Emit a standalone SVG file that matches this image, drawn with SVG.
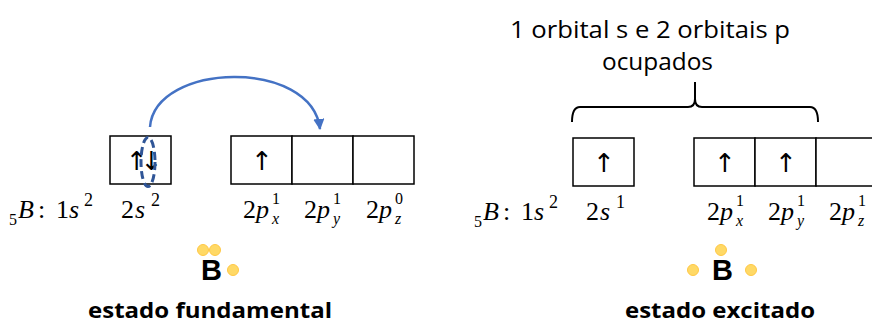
<svg xmlns="http://www.w3.org/2000/svg" width="872" height="325" viewBox="0 0 872 325">
<defs>
<style>
.box{fill:#fff;stroke:#000;stroke-width:1.5}
.m{font-family:"Liberation Serif","Times New Roman",serif;font-size:26px;fill:#000}
.i{font-style:italic}
.sm{font-size:16px}
.arr{font-family:"DejaVu Sans",sans-serif;font-size:26px;text-anchor:middle;fill:#000}
.dot{fill:#FFD966;stroke:#FFC845;stroke-width:1}
.bsym{font-family:"Liberation Sans",Arial,sans-serif;font-weight:bold;font-size:29px;fill:#000}
.cap{font-family:"Open Sans","Liberation Sans",sans-serif;font-weight:bold;font-size:22px;fill:#000}
.note{font-family:"Open Sans","Liberation Sans",sans-serif;font-size:24px;fill:#000}
.brace{fill:none;stroke:#000;stroke-width:2}
</style>
<marker id="ah" viewBox="0 0 10 10" refX="9" refY="5" markerWidth="4.5" markerHeight="4.5" orient="auto" markerUnits="strokeWidth">
<path d="M0,0 L10,5 L0,10 Z" fill="#4472C4"/>
</marker>
</defs>

<g id="ground-state">
<g id="ground-2s">
<rect class="box" x="110" y="136" width="61" height="48"/>
<text class="arr" x="140.5" y="170" letter-spacing="-7">↑↓</text>
</g>
<g id="ground-2p">
<rect class="box" x="231" y="136" width="61" height="48"/>
<rect class="box" x="292" y="136" width="61" height="48"/>
<rect class="box" x="353" y="136" width="61" height="48"/>
<text class="arr" x="262" y="170">↑</text>
</g>
<g id="ground-config">
<text class="m"><tspan class="sm" x="9" y="225">5</tspan><tspan class="i" x="18" y="218">B</tspan><tspan x="38">:</tspan><tspan x="56">1</tspan><tspan class="i" x="69">s</tspan><tspan x="84" y="206" font-size="18">2</tspan></text>
<text class="m"><tspan x="121" y="218">2</tspan><tspan class="i" x="135">s</tspan><tspan x="151" y="206" font-size="18">2</tspan></text>
<text class="m"><tspan x="243" y="218">2</tspan><tspan class="i" x="256">p</tspan></text>
<text class="m sm" x="272" y="204">1</text><text class="m sm i" x="272" y="224">x</text>
<text class="m"><tspan x="304" y="218">2</tspan><tspan class="i" x="317">p</tspan></text>
<text class="m sm" x="333" y="204">1</text><text class="m sm i" x="333" y="224">y</text>
<text class="m"><tspan x="366" y="218">2</tspan><tspan class="i" x="379">p</tspan></text>
<text class="m sm" x="395" y="204">0</text><text class="m sm i" x="395" y="224">z</text>
</g>
<g id="ground-lewis">
<circle class="dot" cx="203" cy="250" r="5.5"/>
<circle class="dot" cx="215" cy="250" r="5.5"/>
<circle class="dot" cx="233" cy="270" r="5.5"/>
<text class="bsym" x="201" y="280">B</text>
</g>
<g id="ground-label">
<text class="cap" x="88" y="318" textLength="244" lengthAdjust="spacingAndGlyphs">estado fundamental</text>
</g>
</g>

<g id="excited-state">
<g id="excited-2s">
<rect class="box" x="573" y="138" width="61" height="48"/>
<text class="arr" x="604" y="172">↑</text>
</g>
<g id="excited-2p">
<rect class="box" x="694" y="138" width="61" height="48"/>
<rect class="box" x="755" y="138" width="61" height="48"/>
<rect class="box" x="816" y="138" width="61" height="48"/>
<text class="arr" x="725" y="172">↑</text>
<text class="arr" x="786" y="172">↑</text>
</g>
<g id="excited-config">
<text class="m"><tspan class="sm" x="474" y="227">5</tspan><tspan class="i" x="483" y="220">B</tspan><tspan x="503">:</tspan><tspan x="521">1</tspan><tspan class="i" x="534">s</tspan><tspan x="549" y="208" font-size="18">2</tspan></text>
<text class="m"><tspan x="586" y="220">2</tspan><tspan class="i" x="600">s</tspan><tspan x="616" y="208" font-size="18">1</tspan></text>
<text class="m"><tspan x="707" y="220">2</tspan><tspan class="i" x="720">p</tspan></text>
<text class="m sm" x="736" y="206">1</text><text class="m sm i" x="736" y="226">x</text>
<text class="m"><tspan x="768" y="220">2</tspan><tspan class="i" x="781">p</tspan></text>
<text class="m sm" x="797" y="206">1</text><text class="m sm i" x="797" y="226">y</text>
<text class="m"><tspan x="829" y="220">2</tspan><tspan class="i" x="842">p</tspan></text>
<text class="m sm" x="858" y="206">1</text><text class="m sm i" x="858" y="226">z</text>
</g>
<g id="excited-lewis">
<circle class="dot" cx="721" cy="250" r="5.5"/>
<circle class="dot" cx="693" cy="270" r="5.5"/>
<circle class="dot" cx="751" cy="270" r="5.5"/>
<text class="bsym" x="712" y="280">B</text>
</g>
<g id="excited-label">
<text class="cap" x="625" y="318" textLength="190" lengthAdjust="spacingAndGlyphs">estado excitado</text>
</g>
<g id="occupied-note">
<text class="note" x="510" y="38" textLength="280" lengthAdjust="spacingAndGlyphs">1 orbital s e 2 orbitais p</text>
<text class="note" x="602" y="70" textLength="111" lengthAdjust="spacingAndGlyphs">ocupados</text>
<path class="brace" d="M572,122 Q572,107 580,107 L688,107 Q695,107 695,99 L695,82 M695,99 Q695,107 702,107 L810,107 Q818,107 818,122"/>
</g>
</g>

<g id="connectors">
<ellipse cx="148" cy="162" rx="7" ry="24.5" fill="none" stroke="#2F5597" stroke-width="3" stroke-dasharray="8 4"/>
<path d="M150,127 C155,62 312,58 320,129" fill="none" stroke="#4472C4" stroke-width="2.5" marker-end="url(#ah)"/>
</g>
</svg>
